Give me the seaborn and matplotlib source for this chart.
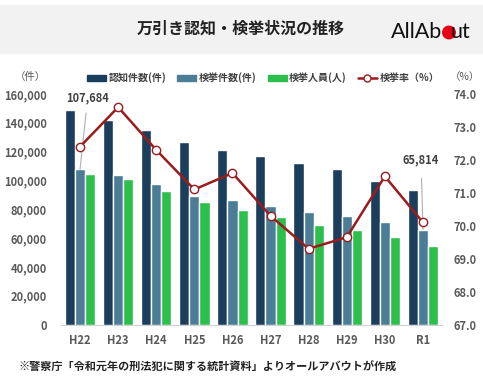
import matplotlib
matplotlib.use("Agg")
import matplotlib.pyplot as plt
import seaborn as sns
import pandas as pd
from matplotlib.lines import Line2D
from matplotlib.patches import Patch

years = ['H22', 'H23', 'H24', 'H25', 'H26', 'H27', 'H28', 'H29', 'H30', 'R1']
ninchi = [148700, 141900, 135200, 126400, 121000, 117000, 112400, 107700, 99500, 93200]
kenkyo = [107684, 104000, 97400, 89500, 86500, 82300, 77900, 75100, 70900, 65814]
jinin = [104400, 101200, 92800, 85100, 79700, 74600, 69200, 65700, 60400, 54500]
rate = [72.4, 73.6, 72.3, 71.1, 71.6, 70.3, 69.3, 69.65, 71.5, 70.1]

series_names = ['認知件数(件)', '検挙件数(件)', '検挙人員(人)']
colors = ['#1b3e5d', '#4b7d96', '#2dbf4c']
line_color = '#9b1c1c'
grey = '#595959'

df = pd.DataFrame({
    'year': years * 3,
    'value': ninchi + kenkyo + jinin,
    'series': [series_names[0]] * 10 + [series_names[1]] * 10 + [series_names[2]] * 10,
})

sns.set_style('white')
plt.rcParams['font.family'] = ['Noto Sans CJK JP', 'DejaVu Sans']

fig = plt.figure(figsize=(4.83, 3.82), dpi=100)
# header band
fig.patches.append(plt.Rectangle((0, 1 - 53 / 382), 1, 48 / 382, transform=fig.transFigure,
                                 color='#f2f2f2', zorder=0))
fig.text(241 / 483, 1 - 29 / 382, '万引き認知・検挙状況の推移', ha='center', va='center',
         fontsize=11.5, fontweight='bold', color='#222222')
# logo
fig.text(391 / 483, 1 - 38.5 / 382, 'AllAb', ha='left', va='baseline', fontsize=15.5,
         family='Lato', color='#111111')
fig.text(470 / 483, 1 - 38.5 / 382, 'ut', ha='right', va='baseline', fontsize=15.5,
         family='Lato', color='#111111')
fig.patches.append(matplotlib.patches.Ellipse((449 / 483, 1 - 32.5 / 382), 12.5 / 483, 12.5 / 382,
                                              transform=fig.transFigure, color='#e60012'))

ax = fig.add_axes([61 / 483, 1 - 324.5 / 382, 381 / 483, 230.5 / 382])
sns.barplot(data=df, x='year', y='value', hue='series', palette=colors, ax=ax,
            width=0.8, legend=False, saturation=1)
ax.set_ylim(0, 160000)
ax.set_yticks(range(0, 160001, 20000))
ax.set_yticklabels([f'{v:,}' for v in range(0, 160001, 20000)])
ax.set_xlabel('')
ax.set_ylabel('')
ax.set_xlim(-0.5, 9.5)
for s in ['top', 'right', 'left']:
    ax.spines[s].set_visible(False)
ax.spines['bottom'].set_color('#d0d0d0')
ax.tick_params(axis='both', length=0, labelcolor=grey, labelsize=8)
ax.tick_params(axis='y', pad=10)
ax.tick_params(axis='x', pad=7)
for lab in ax.get_xticklabels() + ax.get_yticklabels():
    lab.set_fontweight('bold')

ax2 = ax.twinx()
sns.lineplot(x=list(range(10)), y=rate, ax=ax2, color=line_color, linewidth=1.8,
             marker='o', markersize=6, markerfacecolor='white', markeredgecolor=line_color,
             markeredgewidth=1.0, sort=False)
ax2.set_ylim(67, 74)
ax2.set_yticks([67 + i for i in range(8)])
ax2.set_yticklabels([f'{67 + i:.1f}' for i in range(8)])
for s in ['top', 'right', 'left', 'bottom']:
    ax2.spines[s].set_visible(False)
ax2.tick_params(axis='y', length=0, labelcolor=grey, labelsize=8, pad=8)
for lab in ax2.get_yticklabels():
    lab.set_fontweight('bold')

# data labels with leader lines
ax.annotate(f'{kenkyo[0]:,}', xy=(0, kenkyo[0]), xytext=(0.2, 157500), ha='center', va='center',
            fontsize=8, fontweight='bold', color='#404040',
            arrowprops=dict(arrowstyle='-', color='#b0b0b0', lw=0.8, shrinkA=4, shrinkB=0))
ax.annotate(f'{kenkyo[9]:,}', xy=(9, kenkyo[9]), xytext=(8.95, 114000), ha='center', va='center',
            fontsize=8, fontweight='bold', color='#404040',
            arrowprops=dict(arrowstyle='-', color='#b0b0b0', lw=0.8, shrinkA=6, shrinkB=0))

fig.text(15 / 483, 1 - 77 / 382, '（件）', ha='left', va='center', fontsize=7.5, color=grey)
fig.text(465 / 483, 1 - 77 / 382, '（%）', ha='center', va='center', fontsize=7.5, color=grey)

handles = [Patch(color=c) for c in colors]
handles.append(Line2D([], [], color=line_color, lw=1.8, marker='o', markersize=5,
                      markerfacecolor='white', markeredgecolor=line_color))
labels = series_names + ['検挙率（%）']
leg = fig.legend(handles, labels, loc='center', bbox_to_anchor=(263 / 483, 1 - 78 / 382), ncol=4,
                 frameon=False, fontsize=7.2, handlelength=1.9, handleheight=0.6,
                 handletextpad=0.25, columnspacing=1.1)
for t in leg.get_texts():
    t.set_fontweight('bold')
    t.set_color('#404040')

fig.text(18 / 483, 1 - 367 / 382, '※警察庁「令和元年の刑法犯に関する統計資料」よりオールアバウトが作成',
         ha='left', va='center', fontsize=8, fontweight='bold', color='#222222')

fig.savefig('out.png', dpi=100)
